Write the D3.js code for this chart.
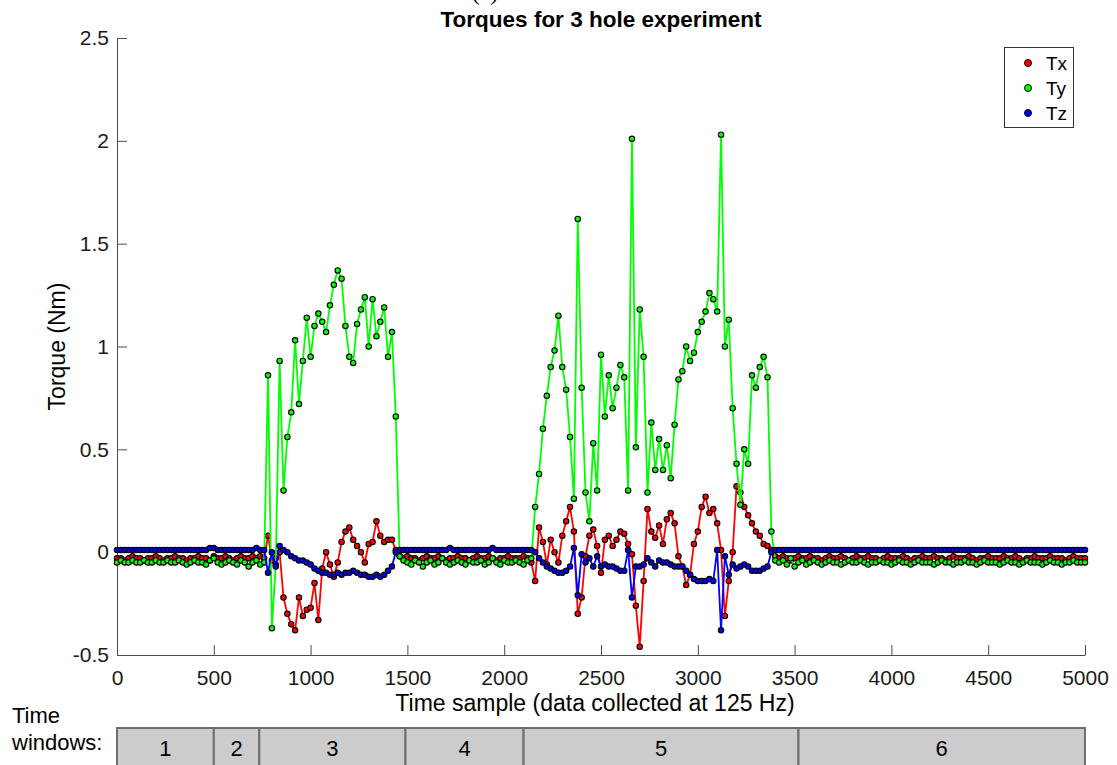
<!DOCTYPE html>
<html>
<head>
<meta charset="utf-8">
<script src="https://cdn.jsdelivr.net/npm/d3@7"></script>
<style>
  body { margin: 0; background: #fff; }
  svg { display: block; font-family: "Liberation Sans", Arial, sans-serif; }
  .tick text { fill: #1a1a1a; }
</style>
</head>
<body>
<div class="wrapper-svg"></div>
<script>
// time sample index of every stored point (one point every 20 samples)
var samples = d3.range(0, 5001, 20);

// torques in hundredths of Nm
var tx = [
  -3,-3,-4,-3,-2,-3,-3,-4,-3,-3, -2,-3,-4,-3,-3,-2,-3,-3,-4,-3, -3,-2,-3,-3,-4,-2,-3,-3,-2,-3, -4,-3,-2,-3,-3,-2,-3,-2,
  -3,8,-4,-3,0,-22,-30,-35,-38,-22, -31,-28,-27,-15,-33,-8,0,-6,-12,-5, 5,10,12,6,3,0,-5,4,5,15, 8,5,6,6,1,-2,
  -3,-2,-3,-3,-4,-3,-2,-3,-3,-2, -3,-4,-3,-3,-2,-3,-3,-4,-3,-2, -3,-3,-2,-3,-4,-3,-3,-2,-3,-3, -3,-2,-3,
  -5,-14,12,5,-6,6,0,-5,8,15, 22,10,-30,-22,-2,8,11,3,-10,6, 8,3,6,10,9,4,-1,-26,-46,-14, 21,10,7,13,4,16,19,14,-2,-7,
  -16,-11,4,10,22,27,19,21,14,1, -31,-14,0,32,29,22,18,14,10,8, 4,3,1,-2,
  -3,-2,-3,-4,-3,-2,-3,-3,-2,-3, -3,-4,-3,-2,-3,-3,-2,-3,-4,-3, -2,-3,-3,-2,-3,-3,-4,-3,-2,-3,
  -3,-3,-2,-3,-4,-3,-3,-2,-3,-3, -2,-3,-3,-4,-3,-2,-3,-3,-3,-2, -3,-4,-3,-3,-2,-3,-3,-3,-2,-3,
  -3,-2,-3,-4,-3,-3,-2,-3,-3,-3, -2,-3,-3,-3,-4,-3,-2,-3,-3,-3
];
var ty = [
  -5,-4,-5,-5,-4,-5,-5,-4,-5,-5, -4,-5,-5,-4,-5,-5,-4,-5,-6,-5, -4,-5,-5,-6,-4,-3,-5,-6,-5,-4, -5,-6,-4,-5,-7,-5,-4,-6,
  -5,86,-37,-6,93,30,56,68,103,72, 93,114,95,110,116,112,107,120,130,137, 133,110,95,92,111,118,124,100,123,105, 112,119,95,107,66,-2,
  -4,-5,-6,-4,-5,-7,-5,-4,-6,-5, -3,-5,-6,-5,-4,-5,-6,-4,-5,-5, -4,-6,-5,-3,-5,-6,-4,-5,-5,-4, -5,-6,-4,
  -3,22,38,60,76,90,98,115,90,79, 56,26,162,80,29,15,53,30,96,66, 86,70,80,91,85,30,201,51,118,95, 29,63,40,55,40,52,36,62,84,88,
  100,93,97,107,112,117,126,123,117,203, 100,113,70,43,23,50,43,86,80,90, 95,85,10,-4,
  -5,-4,-6,-3,-7,-5,-4,-6,-5,-4, -5,-6,-5,-4,-5,-5,-6,-5,-4,-5, -5,-4,-5,-6,-5,-5,-4,-5,-5,-6,
  -5,-4,-5,-5,-6,-5,-4,-5,-5,-5, -6,-5,-4,-5,-5,-6,-5,-5,-4,-5, -5,-6,-5,-4,-5,-5,-5,-6,-5,-4,
  -5,-5,-6,-5,-4,-5,-5,-5,-6,-5, -4,-5,-5,-6,-5,-5,-4,-5,-5,-5
];
var tz = [
  1,1,1,1,1,1,1,1,1,1, 1,1,1,1,1,1,1,1,1,1, 1,1,1,1,2,2,1,1,1,1, 1,1,1,1,1,1,2,1,
  1,-10,0,-7,3,1,0,-2,-3,-4, -4,-5,-6,-8,-9,-10,-10,-11,-11,-10, -11,-10,-10,-9,-10,-11,-11,-12,-12,-11, -12,-11,-9,-7,0,1,
  1,1,1,1,1,1,1,1,1,1, 1,1,2,1,1,1,1,1,1,1, 1,1,1,2,1,1,1,1,1,1, 1,1,1,
  1,0,-3,-5,-7,-8,-9,-10,-10,-9, -7,2,-21,-1,-5,-3,-7,-2,-7,-6, -7,-7,-8,-9,-9,1,-22,-7,-7,-6, -3,-5,-7,-4,-5,-5,-6,-7,-7,-7,
  -9,-11,-13,-14,-14,-14,-13,-14,1,-38, -2,-11,-6,-8,-7,-6,-7,-9,-9,-9, -8,-7,0,1,
  1,1,1,1,1,1,1,1,1,1, 1,1,1,1,1,1,1,1,1,1, 1,1,1,1,1,1,1,1,1,1,
  1,1,1,1,1,1,1,1,1,1, 1,1,1,1,1,1,1,1,1,1, 1,1,1,1,1,1,1,1,1,1,
  1,1,1,1,1,1,1,1,1,1, 1,1,1,1,1,1,1,1,1,1
];

var seriesNames = ['Tx', 'Ty', 'Tz'];
var seriesColors = ['#ff0000', '#00ff00', '#0000ff'];
var xTicks = d3.range(0, 5001, 500);
var yTicks = [-0.5, 0, 0.5, 1, 1.5, 2, 2.5];

// time windows (edges in samples) and their labels
var windowEdges = [0, 500, 735, 1490, 2100, 3520, 5000];
var windowLabels = ['1', '2', '3', '4', '5', '6'];

var W = 1117, H = 765;
var plotLeft = 117, plotRight = 1085, plotTop = 38, plotBottom = 655;

var svg = d3.select('.wrapper-svg')
    .append('svg')
    .attr('width', W)
    .attr('height', H);

var x = d3.scaleLinear().domain([0, 5000]).range([plotLeft, plotRight]);
var y = d3.scaleLinear().domain([-0.5, 2.5]).range([plotBottom, plotTop]);

// axes, ticks pointing inwards like the original
var xAxis = svg.append('g')
    .attr('transform', 'translate(0,' + plotBottom + ')')
    .call(d3.axisBottom(x).tickValues(xTicks).tickFormat(d3.format('d'))
        .tickSizeInner(-10).tickSizeOuter(0).tickPadding(15));
var yAxis = svg.append('g')
    .attr('transform', 'translate(' + plotLeft + ',0)')
    .call(d3.axisLeft(y).tickValues(yTicks).tickFormat(function(d) { return String(d); })
        .tickSizeInner(-10).tickSizeOuter(0).tickPadding(8));

[xAxis, yAxis].forEach(function(a) {
    a.selectAll('path, line').attr('stroke', '#4d4d4d');
    a.selectAll('text').style('font-size', '21px');
});

// data
var data = [tx, ty, tz];
var line = d3.line()
    .x(function(d, i) { return x(samples[i]); })
    .y(function(d) { return y(d / 100); });

data.forEach(function(vals, k) {
    var g = svg.append('g').attr('class', 'series-' + seriesNames[k]);
    g.append('path')
        .datum(vals)
        .attr('d', line)
        .attr('fill', 'none')
        .attr('stroke', seriesColors[k])
        .attr('stroke-width', 1.8);
    g.selectAll('circle')
        .data(vals)
        .enter()
        .append('circle')
        .attr('cx', function(d, i) { return x(samples[i]); })
        .attr('cy', function(d) { return y(d / 100); })
        .attr('r', 2.7)
        .attr('fill', seriesColors[k])
        .attr('stroke', '#000')
        .attr('stroke-width', 1.1);
});

// titles and labels
svg.append('text')
    .text('(c)')
    .attr('x', 485)
    .attr('y', 0)
    .attr('text-anchor', 'middle')
    .style('font-family', '"Liberation Serif", serif')
    .style('font-size', '24px');

svg.append('text')
    .text('Torques for 3 hole experiment')
    .attr('x', (plotLeft + plotRight) / 2)
    .attr('y', 27)
    .attr('text-anchor', 'middle')
    .style('font-weight', 'bold')
    .style('font-size', '22.5px');

svg.append('text')
    .text('Time sample (data collected at 125 Hz)')
    .attr('x', (plotLeft + plotRight) / 2 - 6)
    .attr('y', 711)
    .attr('text-anchor', 'middle')
    .style('font-size', '23px');

svg.append('text')
    .text('Torque (Nm)')
    .attr('transform', 'translate(65,' + (plotTop + plotBottom) / 2 + ') rotate(-90)')
    .attr('text-anchor', 'middle')
    .style('font-size', '23px');

// legend
var legend = svg.append('g').attr('class', 'legend');
legend.append('rect')
    .attr('x', 1004.5)
    .attr('y', 47.5)
    .attr('width', 69)
    .attr('height', 80)
    .attr('fill', '#fff')
    .attr('stroke', '#333');

seriesNames.forEach(function(name, k) {
    legend.append('circle')
        .attr('cx', 1028)
        .attr('cy', 63 + 25 * k)
        .attr('r', 3.5)
        .attr('fill', seriesColors[k])
        .attr('stroke', '#000')
        .attr('stroke-width', 1);
    legend.append('text')
        .text(name)
        .attr('x', 1046)
        .attr('y', 63 + 25 * k)
        .attr('dy', '0.36em')
        .style('font-size', '19px');
});

// time windows strip
svg.append('text')
    .text('Time')
    .attr('x', 12)
    .attr('y', 723)
    .style('font-size', '22px');
svg.append('text')
    .text('windows:')
    .attr('x', 12)
    .attr('y', 750)
    .style('font-size', '22px');

for (var i = 0; i < windowLabels.length; i++) {
    var x0 = x(windowEdges[i]), x1 = x(windowEdges[i + 1]);
    svg.append('rect')
        .attr('x', x0)
        .attr('y', 728)
        .attr('width', x1 - x0)
        .attr('height', 60)
        .attr('fill', '#cccccc')
        .attr('stroke', '#6e6e6e')
        .attr('stroke-width', 2);
    svg.append('text')
        .text(windowLabels[i])
        .attr('x', (x0 + x1) / 2)
        .attr('y', 756)
        .attr('text-anchor', 'middle')
        .style('font-size', '22px');
}
</script>
</body>
</html>
